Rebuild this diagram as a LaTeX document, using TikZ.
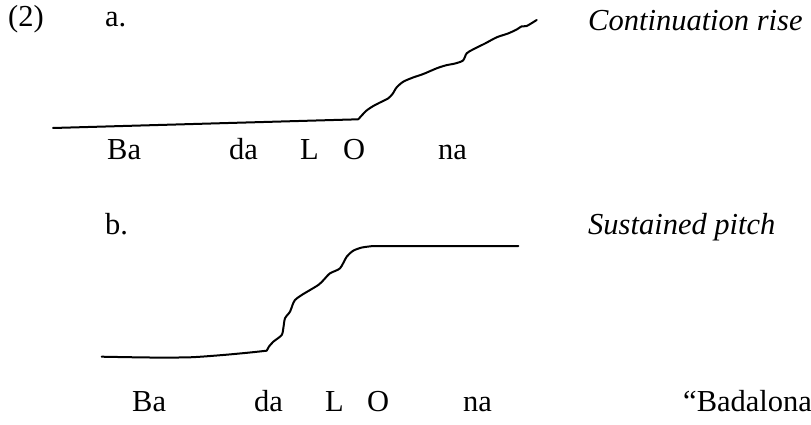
\documentclass[tikz,border=0pt]{standalone}
\usepackage{fontspec}
\setmainfont{Liberation Serif}
\newfontfamily\glossserif{Liberation Serif}
\begin{document}
\begin{tikzpicture}[x=1pt,y=-1pt,
  lbl/.style={anchor=base west,inner sep=0pt,font=\glossserif\fontsize{30.5}{36}\selectfont},
  ilbl/.style={lbl,font=\glossserif\fontsize{30.5}{36}\selectfont\itshape},
  contour/.style={line width=2pt,line join=round,line cap=round}]
\useasboundingbox (0,0) rectangle (811,425);

% example number and item labels
\node[lbl] (num) at (8,27) {(2)};
\node[lbl] (ia) at (105,27) {a.};
\node[ilbl] (ca) at (588,31) {Continuation rise};
\node[lbl] (ib) at (105,234) {b.};
\node[ilbl] (cb) at (588,234) {Sustained pitch};

% syllables, contour a
\node[lbl] (a1) at (107,160) {Ba};
\node[lbl] (a2) at (229,160) {da};
\node[lbl] (a3) at (300,160) {L};
\node[lbl] (a4) at (343,160) {O};
\node[lbl] (a5) at (438,160) {na};

% syllables, contour b
\node[lbl] (b1) at (132,411) {Ba};
\node[lbl] (b2) at (254,411) {da};
\node[lbl] (b3) at (325,411) {L};
\node[lbl] (b4) at (367,411) {O};
\node[lbl] (b5) at (463,411) {na};
\node[lbl] (gl) at (683,411) {“Badalona};

% contour a: low plateau, then a stepped rise
\draw[contour] (53,128) -- (358.3,119.3)
  plot[smooth,tension=0.45] coordinates {
    (358.3,119.3) (366,111) (373.3,106) (380,102.5) (388,98.5) (392.5,94)
    (396.7,87.3) (403.3,81.7) (413,77.5) (423.3,74) (436.7,68.3) (446,65.3)
    (455,63.5) (463,60.5) (466.7,53.3) (473.3,49.3) (485,43.5) (496.7,37.3)
    (508,33.5) (516.7,29.5) (521.7,26.3) (526.7,26) (536.7,20)};

% contour b: low start, steep stepped rise, level plateau
\draw[contour]
  plot[smooth,tension=0.45] coordinates {
    (101.7,356.7) (150,357.5) (190,357.3) (223,355) (250,352.5) (266.7,350.7)}
  -- (269,346.5)
  plot[smooth,tension=0.45] coordinates {
    (269,346.5) (273.3,341.7) (281.7,335) (283.5,327) (285,318.3) (290,311.7)
    (292.5,305) (295,300) (301.7,295) (318.3,285) (324,279.5) (330,273.3)
    (340,268.3) (346.7,256.7) (353.3,250.7) (362,247.5) (373.3,246)}
  -- (518.3,246);
\end{tikzpicture}
\end{document}
